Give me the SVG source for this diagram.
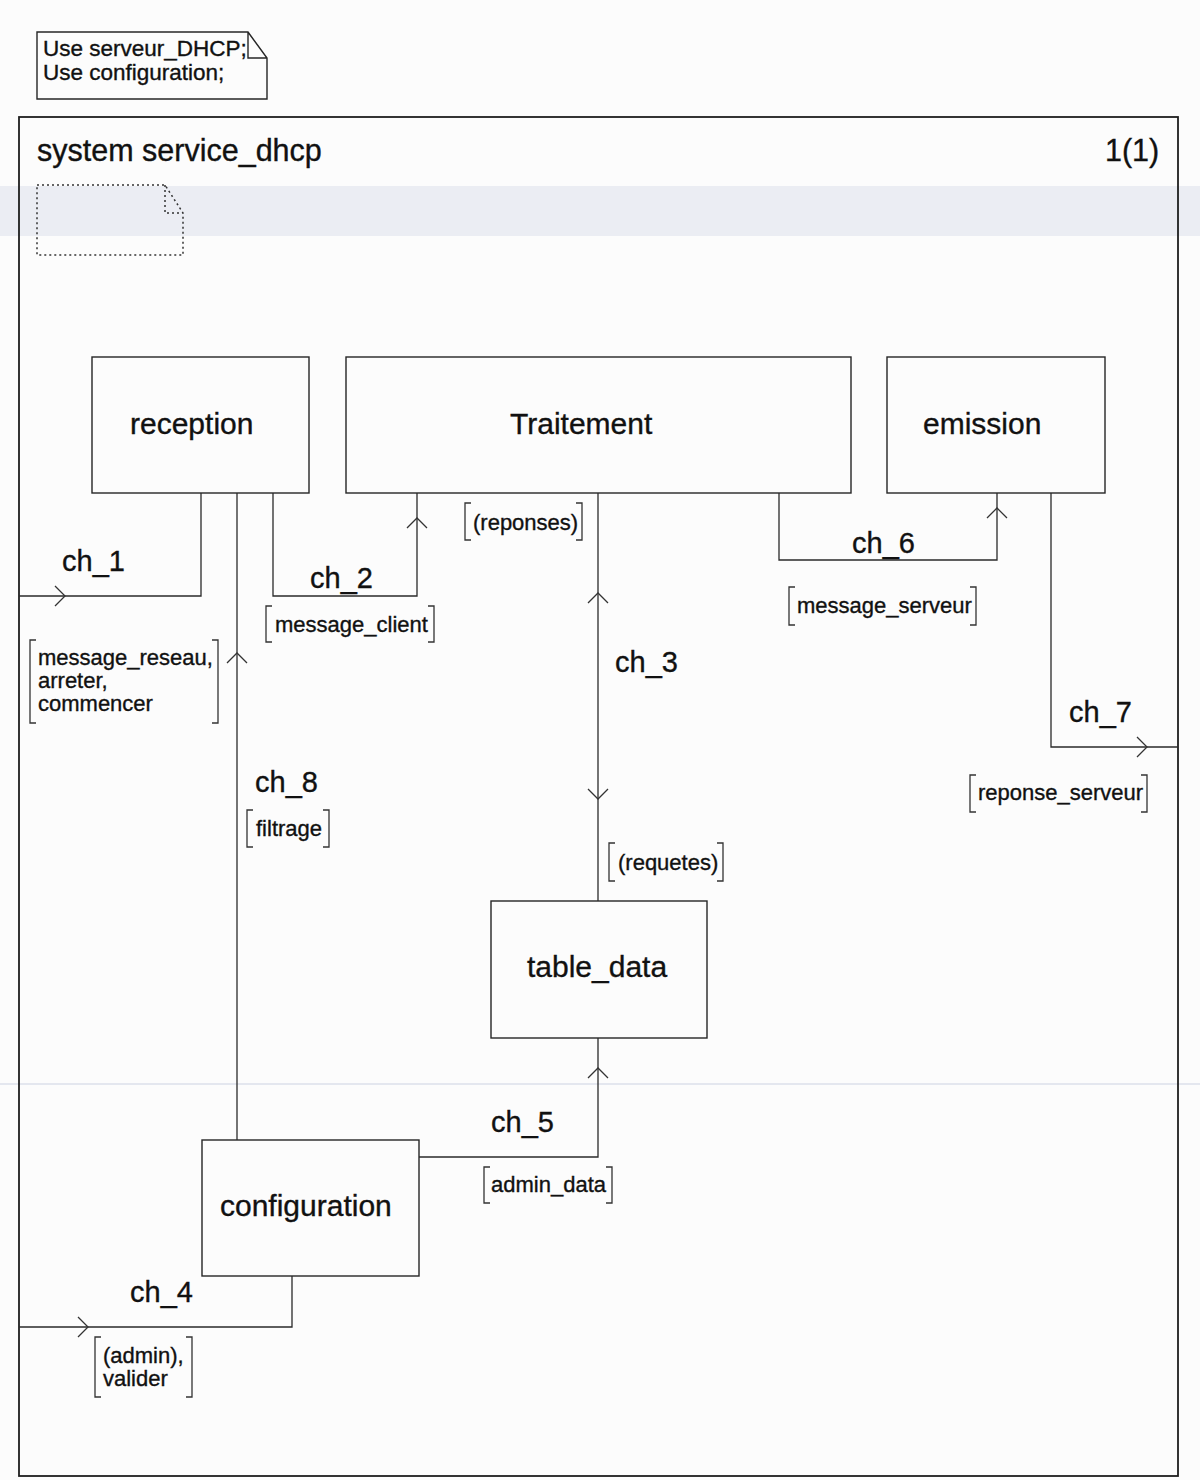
<svg xmlns="http://www.w3.org/2000/svg" width="1200" height="1480" viewBox="0 0 1200 1480">
  <style>
    .frame { fill: none; stroke: #1e1e1e; stroke-width: 1.8; }
    .box { fill: none; stroke: #262626; stroke-width: 1.4; }
    .wire { fill: none; stroke: #2a2a2a; stroke-width: 1.3; }
    .chev { fill: none; stroke: #333; stroke-width: 1.3; }
    .brk { fill: none; stroke: #333; stroke-width: 1.3; }
    .dot { fill: none; stroke: #333; stroke-width: 1.5; stroke-dasharray: 2 3; }
    text { font-family: "Liberation Sans", Arial, sans-serif; fill: #111; stroke: #111; stroke-width: 0.35; }
    .title { font-size: 30.5px; }
    .node { font-size: 30px; }
    .ch { font-size: 29px; }
    .sig { font-size: 22px; }
    .note { font-size: 22.5px; }
  </style>
  <defs>
    <!-- open arrowhead, tip at origin, pointing along +x -->
    <path id="chev" class="chev" d="M-10,-10 L0,0 L-10,10"/>
  </defs>

  <!-- paper -->
  <rect x="0" y="0" width="1200" height="1480" fill="#fcfcfc"/>
  <g id="scan-tint">
    <rect x="0" y="186" width="1200" height="50" fill="#e6e9f0" opacity="0.8"/>
    <line x1="0" y1="1084" x2="1200" y2="1084" stroke="#c8cfe0" stroke-width="1.5" opacity="0.6"/>
  </g>

  <!-- package usage note -->
  <g id="use-note">
    <path class="box" d="M37,32 H248 L267,58 V99 H37 Z M248,32 V58 H267"/>
    <text class="note" x="43" y="56">Use serveur_DHCP;</text>
    <text class="note" x="43" y="80">Use configuration;</text>
  </g>

  <!-- system frame -->
  <g id="system-frame">
    <rect class="frame" x="19" y="117" width="1159" height="1359"/>
    <text class="title" x="37" y="161">system service_dhcp</text>
    <text class="title" x="1105" y="161">1(1)</text>
    <path class="dot" d="M37,185 H165 L183,213 V255 H37 Z M165,185 V213 H183"/>
  </g>

  <!-- blocks -->
  <g id="reception">
    <rect class="box" x="92" y="357" width="217" height="136"/>
    <text class="node" x="130" y="434">reception</text>
  </g>
  <g id="traitement">
    <rect class="box" x="346" y="357" width="505" height="136"/>
    <text class="node" x="510" y="434">Traitement</text>
  </g>
  <g id="emission">
    <rect class="box" x="887" y="357" width="218" height="136"/>
    <text class="node" x="923" y="434">emission</text>
  </g>
  <g id="table_data">
    <rect class="box" x="491" y="901" width="216" height="137"/>
    <text class="node" x="527" y="977">table_data</text>
  </g>
  <g id="configuration">
    <rect class="box" x="202" y="1140" width="217" height="136"/>
    <text class="node" x="220" y="1216">configuration</text>
  </g>

  <!-- channels -->
  <g id="connectors">
    <!-- ch_1: environment -> reception -->
    <g id="ch_1">
      <path class="wire" d="M19,596 H201 V493"/>
      <use href="#chev" transform="translate(65,596)"/>
      <text class="ch" x="62" y="571">ch_1</text>
      <path class="brk" d="M36,640 H30 V723 H36 M212,640 H218 V723 H212"/>
      <text class="sig" x="38" y="665">message_reseau,</text>
      <text class="sig" x="38" y="688">arreter,</text>
      <text class="sig" x="38" y="711">commencer</text>
    </g>
    <!-- ch_2: reception -> Traitement -->
    <g id="ch_2">
      <path class="wire" d="M273,493 V596 H417 V493"/>
      <use href="#chev" transform="translate(417,518) rotate(-90)"/>
      <text class="ch" x="310" y="588">ch_2</text>
      <path class="brk" d="M272,606 H266 V642 H272 M428,606 H434 V642 H428"/>
      <text class="sig" x="275" y="632">message_client</text>
    </g>
    <!-- ch_3: Traitement <-> table_data -->
    <g id="ch_3">
      <path class="wire" d="M598,493 V901"/>
      <use href="#chev" transform="translate(598,593) rotate(-90)"/>
      <use href="#chev" transform="translate(598,799) rotate(90)"/>
      <text class="ch" x="615" y="672">ch_3</text>
      <path class="brk" d="M471,503 H465 V540 H471 M576,503 H582 V540 H576"/>
      <text class="sig" x="473" y="530">(reponses)</text>
      <path class="brk" d="M615,843 H609 V881 H615 M717,843 H723 V881 H717"/>
      <text class="sig" x="618" y="870">(requetes)</text>
    </g>
    <!-- ch_8: configuration -> reception -->
    <g id="ch_8">
      <path class="wire" d="M237,493 V1140"/>
      <use href="#chev" transform="translate(237,653) rotate(-90)"/>
      <text class="ch" x="255" y="792">ch_8</text>
      <path class="brk" d="M253,810 H247 V847 H253 M323,810 H329 V847 H323"/>
      <text class="sig" x="256" y="836">filtrage</text>
    </g>
    <!-- ch_5: configuration -> table_data -->
    <g id="ch_5">
      <path class="wire" d="M419,1157 H598 V1038"/>
      <use href="#chev" transform="translate(598,1068) rotate(-90)"/>
      <text class="ch" x="491" y="1132">ch_5</text>
      <path class="brk" d="M490,1167 H484 V1203 H490 M606,1167 H612 V1203 H606"/>
      <text class="sig" x="491" y="1192">admin_data</text>
    </g>
    <!-- ch_4: environment -> configuration -->
    <g id="ch_4">
      <path class="wire" d="M19,1327 H292 V1276"/>
      <use href="#chev" transform="translate(88,1327)"/>
      <text class="ch" x="130" y="1302">ch_4</text>
      <path class="brk" d="M101,1337 H95 V1397 H101 M186,1337 H192 V1397 H186"/>
      <text class="sig" x="103" y="1363">(admin),</text>
      <text class="sig" x="103" y="1386">valider</text>
    </g>
    <!-- ch_6: Traitement -> emission -->
    <g id="ch_6">
      <path class="wire" d="M779,493 V560 H997 V493"/>
      <use href="#chev" transform="translate(997,508) rotate(-90)"/>
      <text class="ch" x="852" y="553">ch_6</text>
      <path class="brk" d="M795,587 H789 V625 H795 M970,587 H976 V625 H970"/>
      <text class="sig" x="797" y="613">message_serveur</text>
    </g>
    <!-- ch_7: emission -> environment -->
    <g id="ch_7">
      <path class="wire" d="M1051,493 V747 H1178"/>
      <use href="#chev" transform="translate(1147,747)"/>
      <text class="ch" x="1069" y="722">ch_7</text>
      <path class="brk" d="M976,775 H970 V812 H976 M1141,775 H1147 V812 H1141"/>
      <text class="sig" x="978" y="800">reponse_serveur</text>
    </g>
  </g>
</svg>
